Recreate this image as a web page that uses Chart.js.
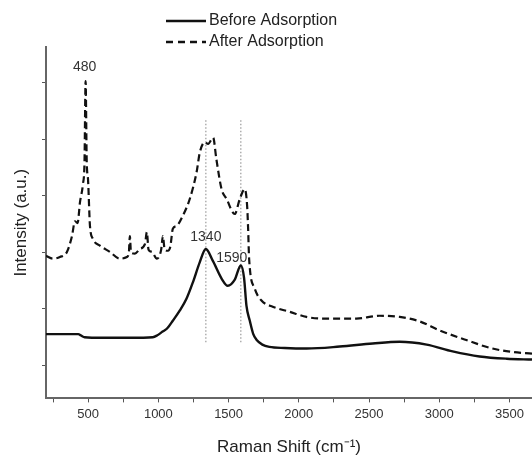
<!DOCTYPE html>
<html>
<head>
<meta charset="utf-8">
<script src="https://cdn.jsdelivr.net/npm/chart.js@4.4.0/dist/chart.umd.min.js"></script>
<style>
  body { margin: 0; background: #fff; overflow: hidden; }
  canvas { display: block; }
</style>
</head>
<body>
<canvas id="raman" width="532" height="456"></canvas>
<script>
// Raman spectra (intensity in arbitrary units, 1 unit = 1 y tick)
var seriesNames = ['Before Adsorption', 'After Adsorption'];

var beforeX = [200, 430, 450, 475, 600, 800, 960, 990, 1030, 1060, 1105, 1153, 1200, 1247, 1295, 1338,
  1388, 1452, 1494, 1544, 1587, 1610, 1627, 1650, 1675, 1700, 1740, 1790, 1900, 2056, 2291, 2526, 2718,
  2910, 3095, 3287, 3480, 3660];
var beforeY = [1.556, 1.556, 1.53, 1.50, 1.49, 1.49, 1.50, 1.53, 1.60, 1.65, 1.80, 1.975, 2.18, 2.48, 2.83, 3.06,
  2.85, 2.53, 2.41, 2.52, 2.77, 2.55, 2.06, 1.80, 1.56, 1.45, 1.37, 1.33, 1.31, 1.30, 1.335, 1.39, 1.42,
  1.37, 1.25, 1.16, 1.12, 1.105];

var afterX = [200, 250, 299, 349, 385, 406, 425, 442, 463, 474, 482, 490, 499, 513, 534, 584, 655, 726, 776,
  790, 797, 805, 833, 868, 905, 918, 930, 954, 989, 1020, 1032, 1045, 1068, 1085, 1103, 1130, 1174, 1224,
  1272, 1295, 1331, 1354, 1390, 1413, 1450, 1485, 1544, 1580, 1615, 1632, 1639, 1646, 1686, 1734, 1814,
  1935, 2054, 2170, 2410, 2575, 2718, 2860, 3003, 3192, 3379, 3520, 3660];
var afterY = [2.94, 2.89, 2.92, 3.01, 3.29, 3.55, 3.52, 3.89, 4.21, 4.6, 6.03, 4.6, 4.30, 3.47, 3.24, 3.12, 3.01, 2.89, 2.92,
  3.0, 3.29, 3.0, 2.98, 3.06, 3.15, 3.36, 3.05, 3.01, 2.89, 3.05, 3.29, 3.05, 3.03, 3.10, 3.42, 3.47, 3.65, 3.95,
  4.42, 4.77, 4.95, 4.92, 5.03, 4.65, 4.12, 3.95, 3.68, 3.95, 4.12, 3.82, 3.42, 2.89, 2.36, 2.15, 2.04,
  1.95, 1.86, 1.83, 1.83, 1.88, 1.86, 1.78, 1.62, 1.45, 1.30, 1.24, 1.21];

// peak labels and the dotted marker lines
var peakLabels = ['480', '1340', '1590'];
var peakSeries = [1, 0, 0];
var markerX = [1338, 1587];
var markerRange = [1.41, 5.37];

var xTicks = [250, 500, 750, 1000, 1250, 1500, 1750, 2000, 2250, 2500, 2750, 3000, 3250, 3500];
var yTicks = [1, 2, 3, 4, 5, 6];

function toPoints(xs, ys) {
  return xs.map(function (x, i) { return { x: x, y: ys[i] }; });
}

var datasets = [
  {
    label: seriesNames[0],
    data: toPoints(beforeX, beforeY),
    borderColor: '#111',
    borderWidth: 2.4,
    pointRadius: 0,
    cubicInterpolationMode: 'monotone'
  },
  {
    label: seriesNames[1],
    data: toPoints(afterX, afterY),
    borderColor: '#111',
    borderWidth: 2.2,
    borderDash: [7, 4],
    pointRadius: 0,
    cubicInterpolationMode: 'monotone'
  }
];
markerX.forEach(function (mx) {
  datasets.push({
    label: 'marker',
    data: [{ x: mx, y: markerRange[0] }, { x: mx, y: markerRange[1] }],
    borderColor: '#999',
    borderWidth: 1.2,
    borderDash: [1.5, 2],
    pointRadius: 0
  });
});

var seriesData = [[beforeX, beforeY], [afterX, afterY]];

// legend at the top + peak labels
var extras = {
  id: 'extras',
  afterDraw: function (chart) {
    var ctx = chart.ctx;
    var xs = chart.scales.x, ys = chart.scales.y;
    ctx.save();
    // legend
    ctx.font = '16px "Liberation Sans", Arial, sans-serif';
    ctx.fillStyle = '#222';
    ctx.textBaseline = 'middle';
    ctx.textAlign = 'left';
    seriesNames.forEach(function (name, i) {
      var y = 21 + i * 21;
      ctx.beginPath();
      ctx.strokeStyle = '#111';
      ctx.lineWidth = 2.4;
      ctx.setLineDash(i === 0 ? [] : [7, 5]);
      ctx.moveTo(166, y);
      ctx.lineTo(206, y);
      ctx.stroke();
      ctx.fillText(name, 209, y);
    });
    ctx.setLineDash([]);
    // peak labels: placed just above the highest point near the peak
    ctx.font = '14px "Liberation Sans", Arial, sans-serif';
    ctx.fillStyle = '#333';
    ctx.textAlign = 'center';
    var peakAt = [482, 1338, 1587];
    var offs = [[-1, -14], [0, -12], [-9, -7]];
    peakLabels.forEach(function (txt, i) {
      var s = seriesData[peakSeries[i]];
      var best = 0;
      s[0].forEach(function (x, j) {
        if (Math.abs(x - peakAt[i]) < Math.abs(s[0][best] - peakAt[i])) best = j;
      });
      var px = xs.getPixelForValue(s[0][best]) + offs[i][0];
      var py = ys.getPixelForValue(s[1][best]) + offs[i][1];
      ctx.fillText(txt, px, py);
    });
    ctx.restore();
  }
};

new Chart(document.getElementById('raman'), {
  type: 'line',
  data: { datasets: datasets },
  options: {
    responsive: false,
    animation: false,
    layout: { padding: { top: 47, left: 9, right: 0, bottom: 0 } },
    plugins: {
      legend: { display: false },
      tooltip: { enabled: false }
    },
    scales: {
      x: {
        type: 'linear',
        min: 200,
        max: 3660,
        afterBuildTicks: function (axis) {
          axis.ticks = xTicks.map(function (v) { return { value: v }; });
        },
        ticks: {
          autoSkip: false,
          maxRotation: 0,
          padding: 4,
          color: '#333',
          font: { size: 13, family: '"Liberation Sans", Arial, sans-serif' },
          callback: function (v) { return v % 500 === 0 ? v : ''; }
        },
        grid: { drawOnChartArea: false, drawTicks: true, tickLength: 4, color: '#555', lineWidth: 1 },
        border: { display: true, color: '#666', width: 2 },
        title: {
          display: true,
          text: 'Raman Shift (cm\u207B\u00B9)',
          color: '#222',
          font: { size: 17, lineHeight: 1, family: '"Liberation Sans", Arial, sans-serif' },
          padding: { top: 13, bottom: 0 }
        }
      },
      y: {
        type: 'linear',
        min: 0.418,
        max: 6.635,
        afterBuildTicks: function (axis) {
          axis.ticks = yTicks.map(function (v) { return { value: v }; });
        },
        ticks: { display: false },
        grid: { drawOnChartArea: false, drawTicks: true, tickLength: 4, color: '#555', lineWidth: 1 },
        border: { display: true, color: '#666', width: 2 },
        title: {
          display: true,
          text: 'Intensity (a.u.)',
          color: '#222',
          font: { size: 17, lineHeight: 1, family: '"Liberation Sans", Arial, sans-serif' },
          padding: { top: 4, bottom: 12 }
        }
      }
    }
  },
  plugins: [extras]
});
</script>
</body>
</html>
